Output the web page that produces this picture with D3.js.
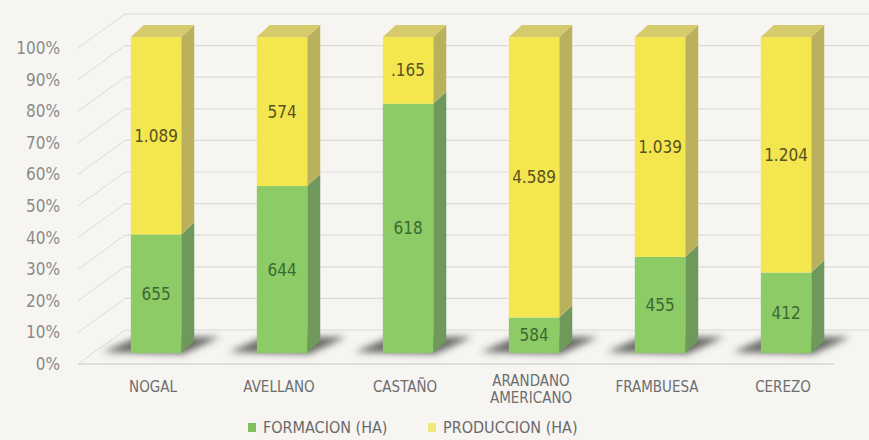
<!DOCTYPE html>
<html>
<head>
<meta charset="utf-8">
<script src="https://cdn.jsdelivr.net/npm/d3@7"></script>
<style>
  body { margin: 0; background: #f6f5f2; }
  svg { display: block; }
  .lbl { font-family: "DejaVu Sans Condensed", "DejaVu Sans", sans-serif; font-stretch: condensed; }
  .cat { font-family: "Liberation Sans Narrow", "DejaVu Sans Condensed", sans-serif; font-stretch: condensed; }
</style>
</head>
<body>
<div id="chart"></div>
<script>
const categories = ["NOGAL", "AVELLANO", "CASTAÑO", "ARANDANO AMERICANO", "FRAMBUESA", "CEREZO"];
const formacion = [655, 644, 618, 584, 455, 412];
const produccion = [1089, 574, 165, 4589, 1039, 1204];
const produccionLabels = ["1.089", "574", ".165", "4.589", "1.039", "1.204"];
const yTicks = [0, 0.1, 0.2, 0.3, 0.4, 0.5, 0.6, 0.7, 0.8, 0.9, 1];
const seriesNames = ["FORMACION (HA)", "PRODUCCION (HA)"];

const width = 869, height = 440;
const depth = {dx: 47, dy: -34};       // floor depth (side wall)
const barZ = 0.32;                      // bar front position in the depth
const barDepth = {dx: 13, dy: -12};     // bar side / top offset

const colors = {
    green: {front: "#8dcb66", side: "#6e995b", top: "#a4d67f", text: "#3c6832"},
    yellow: {front: "#f3e64f", side: "#bab15c", top: "#d6cb6c", text: "#58521f"}
};

const svg = d3.select("#chart").append("svg")
    .attr("width", width)
    .attr("height", height);

const defs = svg.append("defs");
defs.append("filter").attr("id", "blur")
    .attr("x", "-50%").attr("y", "-50%").attr("width", "200%").attr("height", "200%")
    .append("feGaussianBlur").attr("stdDeviation", 3.5);

const y = d3.scaleLinear().domain([0, 1]).range([364, 48]);
const x = d3.scaleBand().domain(categories).range([78, 834])
    .paddingInner(0.6).paddingOuter(0.3);

// projection of a point on plane at depth z
const px = (xv, z) => xv + z * depth.dx;
const py = (v, z) => y(v) + z * depth.dy;

// side wall diagonals and back wall gridlines
const grid = svg.append("g");
yTicks.forEach(t => {
    grid.append("line")
        .attr("x1", px(78, 0)).attr("y1", py(t, 0))
        .attr("x2", px(78, 1)).attr("y2", py(t, 1))
        .attr("stroke", "#dcdbd6").attr("stroke-width", 1);
    grid.append("line")
        .attr("x1", px(78, 1)).attr("y1", py(t, 1))
        .attr("x2", px(834, 1)).attr("y2", py(t, 1))
        .attr("stroke", "#dcdbd6").attr("stroke-width", 1.2);
});
// floor front edge
grid.append("line")
    .attr("x1", 78).attr("y1", y(0)).attr("x2", 834).attr("y2", y(0))
    .attr("stroke", "#d6d5d0").attr("stroke-width", 1.5);

// y axis labels
svg.append("g").selectAll("text")
    .data(yTicks)
    .join("text")
    .attr("class", "lbl")
    .attr("x", 60)
    .attr("y", d => y(d))
    .attr("dy", "0.35em")
    .attr("text-anchor", "end")
    .attr("font-size", 17)
    .attr("fill", "#8a8a8a")
    .text(d3.format(".0%"));

const data = categories.map((c, i) => {
    const total = formacion[i] + produccion[i];
    return {
        cat: c,
        segs: [
            {v0: 0, v1: formacion[i] / total, col: colors.green, label: String(formacion[i])},
            {v0: formacion[i] / total, v1: 1, col: colors.yellow, label: produccionLabels[i]}
        ]
    };
});

// shadows on the floor
const shadows = svg.append("g").attr("filter", "url(#blur)");
data.forEach(d => {
    const xl = px(x(d.cat), barZ), xr = xl + x.bandwidth();
    const yb = py(0, barZ);
    shadows.append("polygon")
        .attr("points", [
            [xl - 28, yb - 1], [xr + 2, yb + 1],
            [xr + barDepth.dx + 26, yb + barDepth.dy - 4], [xl + barDepth.dx - 6, yb + barDepth.dy - 4]
        ].map(p => p.join(",")).join(" "))
        .attr("fill", "#444442")
        .attr("opacity", 0.8);
});

// bars
const bars = svg.append("g");
data.forEach(d => {
    const g = bars.append("g");
    const xl = px(x(d.cat), barZ), xr = xl + x.bandwidth();
    d.segs.forEach((s, k) => {
        const yt = py(s.v1, barZ), yb = py(s.v0, barZ);
        g.append("polygon")
            .attr("points", [[xr, yb], [xr + barDepth.dx, yb + barDepth.dy],
                [xr + barDepth.dx, yt + barDepth.dy], [xr, yt]].map(p => p.join(",")).join(" "))
            .attr("fill", s.col.side);
        g.append("rect")
            .attr("x", xl).attr("y", yt)
            .attr("width", x.bandwidth()).attr("height", yb - yt)
            .attr("fill", s.col.front);
        if (k === d.segs.length - 1) {
            g.append("polygon")
                .attr("points", [[xl, yt], [xr, yt], [xr + barDepth.dx, yt + barDepth.dy],
                    [xl + barDepth.dx, yt + barDepth.dy]].map(p => p.join(",")).join(" "))
                .attr("fill", s.col.top);
        }
        g.append("text")
            .attr("class", "lbl")
            .attr("x", (xl + xr) / 2)
            .attr("y", (yt + yb) / 2)
            .attr("dy", "0.35em")
            .attr("text-anchor", "middle")
            .attr("font-size", 17)
            .attr("fill", s.col.text)
            .text(s.label);
    });
});

// category labels
svg.append("g").selectAll("text")
    .data(categories)
    .join("text")
    .attr("class", "cat")
    .attr("x", d => px(x(d), barZ) + x.bandwidth() / 2 - 3)
    .attr("y", 393)
    .attr("text-anchor", "middle")
    .attr("font-size", 15)
    .attr("fill", "#6e6e6e")
    .each(function(d) {
        const words = d.split(" ");
        const t = d3.select(this);
        words.forEach((w, i) => {
            t.append("tspan")
                .attr("x", t.attr("x"))
                .attr("y", words.length > 1 ? 386 + i * 17 : 392)
                .text(w);
        });
    });

// legend
const legend = svg.append("g");
const legendX = [248, 428];
seriesNames.forEach((n, i) => {
    legend.append("rect")
        .attr("x", legendX[i]).attr("y", 423)
        .attr("width", 8).attr("height", 9)
        .attr("fill", i === 0 ? "#7fbf5c" : "#eeea7a");
    legend.append("text")
        .attr("class", "cat")
        .attr("x", legendX[i] + 15).attr("y", 433)
        .attr("font-size", 16)
        .attr("fill", "#6a6a6a")
        .text(n);
});
</script>
</body>
</html>
